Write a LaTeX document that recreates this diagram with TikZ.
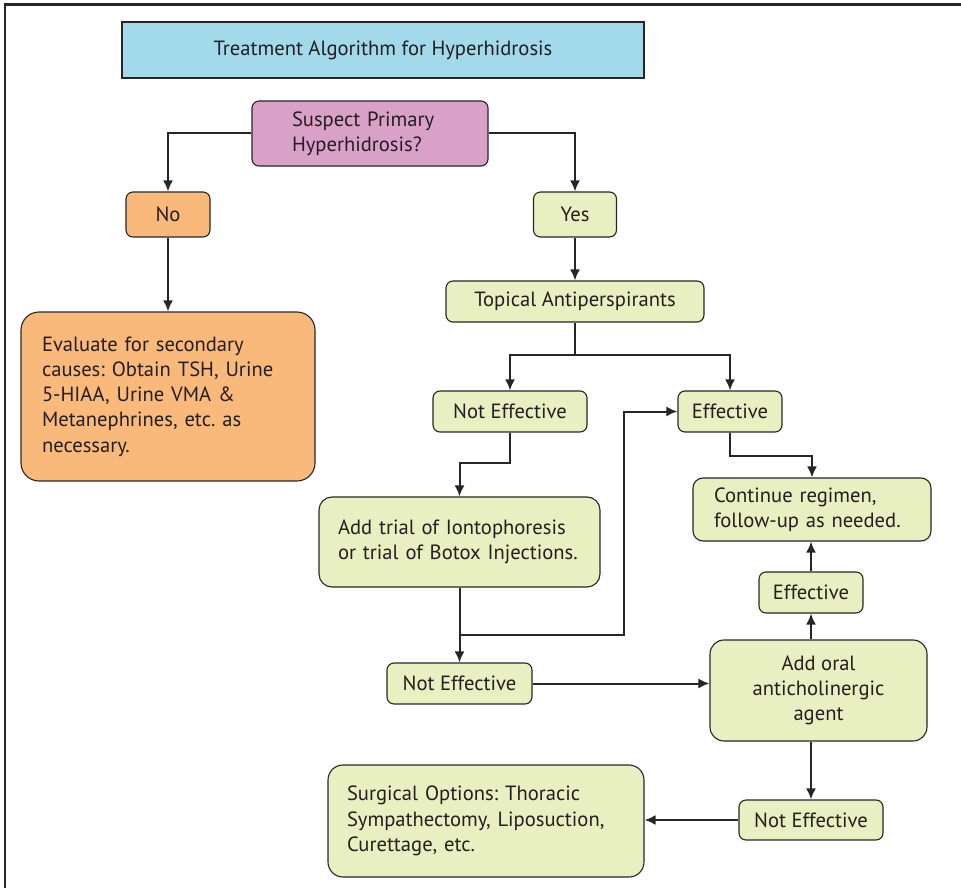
\documentclass[tikz,border=0pt]{standalone}
\usepackage{fontspec}
\setmainfont{PT Sans}
\usetikzlibrary{arrows.meta}
\definecolor{tblue}{HTML}{A2D9EB}
\definecolor{tpink}{HTML}{D9A1C8}
\definecolor{torange}{HTML}{F9B97B}
\definecolor{tgreen}{HTML}{E8EFC1}
\definecolor{tline}{HTML}{262626}
\definecolor{ttext}{HTML}{231F20}
\begin{document}
\frenchspacing
\begin{tikzpicture}[x=1pt,y=-1pt,
  box/.style={draw=tline, line width=1.1pt, rounded corners=7pt, inner sep=0pt,
    text=ttext, font=\fontsize{20.6}{25.3}\selectfont},
  gbox/.style={box, fill=tgreen},
  obox/.style={box, fill=torange},
  arr/.style={draw=tline, line width=2pt, -{Latex[length=11pt,width=10pt]}},
  ln/.style={draw=tline, line width=2pt}]
\useasboundingbox (0,0) rectangle (961,888);
\draw[tline, line width=2.6pt] (5,888) -- (5,4.5) -- (961,4.5);

\node[box, fill=tblue, rounded corners=0pt, minimum width=522pt, minimum height=56pt] (title) at (383,50) {Treatment Algorithm for Hyperhidrosis};
\node[box, fill=tpink, minimum width=236pt, minimum height=65pt, align=left, text width=156pt] (susp) at (370,133.5) {Suspect Primary\\Hyperhidrosis?};
\node[obox, minimum width=84pt, minimum height=45pt] (no) at (168,214.5) {No};
\node[gbox, minimum width=83pt, minimum height=45pt] (yes) at (575,214.5) {Yes};
\node[obox, rounded corners=18pt, minimum width=294pt, minimum height=169pt, align=left, text width=252pt] (eval) at (168,396.5) {Evaluate for secondary\\causes: Obtain TSH, Urine\\5-HIAA, Urine VMA \&\\Metanephrines, etc. as\\necessary.};
\node[gbox, minimum width=258pt, minimum height=41pt] (top) at (575,301.5) {Topical Antiperspirants};
\node[gbox, minimum width=154pt, minimum height=41pt] (ne1) at (510,411.5) {Not Effective};
\node[gbox, minimum width=104pt, minimum height=41pt] (ef1) at (730,411.5) {Effective};
\node[gbox, rounded corners=13pt, minimum width=281pt, minimum height=90pt, align=left, text width=243pt] (add) at (459.5,542) {Add trial of Iontophoresis\\or trial of Botox Injections.};
\node[gbox, rounded corners=10pt, minimum width=238pt, minimum height=63pt, align=left, text width=196pt] (cont) at (812,509.5) {Continue regimen,\\follow-up as needed.};
\node[gbox, minimum width=104pt, minimum height=41pt] (ef2) at (811,592.5) {Effective};
\node[gbox, minimum width=145pt, minimum height=41pt] (ne2) at (459.5,683.5) {Not Effective};
\node[gbox, rounded corners=14pt, minimum width=217pt, minimum height=101pt, align=center] (oral) at (818.5,690.5) {Add oral\\anticholinergic\\agent};
\node[gbox, minimum width=144pt, minimum height=40pt] (ne3) at (811,820) {Not Effective};
\node[gbox, rounded corners=15pt, minimum width=316pt, minimum height=112pt, align=left, text width=278pt] (surg) at (486,821) {Surgical Options: Thoracic\\Sympathectomy, Liposuction,\\Curettage, etc.};

\draw[arr] (susp.west) -| (no.north);
\draw[arr] (susp.east) -| (yes.north);
\draw[arr] (no.south) -- (eval.north);
\draw[arr] (yes.south) -- (top.north);
\coordinate (j1) at (575,355);
\draw[ln] (top.south) -- (j1);
\draw[arr] (j1) -| (ne1.north);
\draw[arr] (j1) -| (ef1.north);
\draw[arr] (ne1.south) -- ++(0,30) -| (add.north);
\draw[arr] (add.south) -- (ne2.north);
\coordinate (j2) at (459.5,635);
\coordinate (c2) at (624,635);
\draw[arr] (j2) -- (c2) |- (ef1.west);
\draw[arr] (ef1.south) -- ++(0,23) -| (cont.north);
\draw[arr] (ne2.east) -- (ne2.east -| oral.west);
\draw[arr] (ef2.south |- oral.north) -- (ef2.south);
\draw[arr] (ef2.north) -- (ef2.north |- cont.south);
\draw[arr] (ne3.north |- oral.south) -- (ne3.north);
\draw[arr] (ne3.west) -- (ne3.west -| surg.east);
\end{tikzpicture}
\end{document}
